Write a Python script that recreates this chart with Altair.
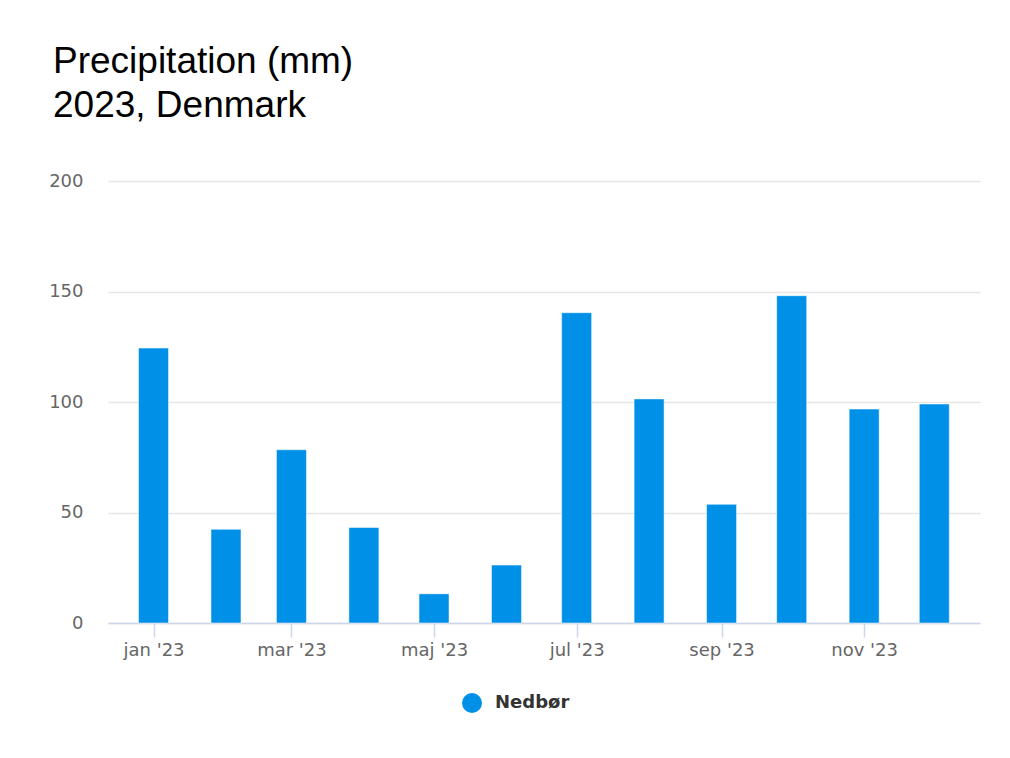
import altair as alt
import pandas as pd

dates = ["2023-01-01T00:00:00", "2023-02-01T00:00:00", "2023-03-01T00:00:00",
         "2023-04-01T00:00:00", "2023-05-01T00:00:00", "2023-06-01T00:00:00",
         "2023-07-01T00:00:00", "2023-08-01T00:00:00", "2023-09-01T00:00:00",
         "2023-10-01T00:00:00", "2023-11-01T00:00:00", "2023-12-01T00:00:00"]
values = [124.4, 42.4, 78.4, 43.2, 13.2, 26.2, 140.4, 101.4, 53.7, 148.1, 96.8, 99.1]
series_name = "Nedbør"
title_lines = ["Precipitation (mm)", "2023, Denmark"]
month_names = ["jan", "feb", "mar", "apr", "maj", "jun", "jul", "aug", "sep", "okt", "nov", "dec"]
tick_months = [1, 3, 5, 7, 9, 11]
y_ticks = [0, 50, 100, 150, 200]

df = pd.DataFrame({"date": dates, "value": values, "series": [series_name] * len(dates)})

names_js = "[" + ",".join("'" + m + "'" for m in month_names) + "]"
label_expr = names_js + "[month(datum.value)] + \" '\" + timeFormat(datum.value, '%y')"

chart = alt.Chart(df).mark_bar(
    width=30, stroke="#ffffff", strokeWidth=1, strokeOpacity=0.5
).encode(
    x=alt.X(
        "date:T",
        scale=alt.Scale(domain=["2022-12-14T16:00:00", "2023-12-18T10:00:00"], nice=False),
        axis=alt.Axis(
            title=None,
            values=[alt.DateTime(year=2023, month=m, date=1) for m in tick_months],
            labelExpr=label_expr,
            grid=False,
            domainColor="#ccd6eb",
            domainWidth=1.5,
            tickColor="#ccd6eb",
            tickWidth=1.5,
            tickSize=14,
            labelPadding=4,
            labelFont="DejaVu Sans",
            labelFontSize=18,
            labelColor="#666666",
        ),
    ),
    y=alt.Y(
        "value:Q",
        scale=alt.Scale(domain=[0, 200], nice=False),
        axis=alt.Axis(
            title=None,
            values=y_ticks,
            grid=True,
            gridColor="#e6e6e6",
            gridWidth=1.5,
            domain=False,
            ticks=False,
            labelPadding=25,
            labelFont="DejaVu Sans",
            labelFontSize=18,
            labelColor="#666666",
        ),
    ),
    color=alt.Color(
        "series:N",
        scale=alt.Scale(domain=[series_name], range=["#0090e8"]),
        legend=alt.Legend(
            title=None,
            orient="none",
            legendX=354,
            legendY=512,
            symbolType="circle",
            symbolSize=400,
            symbolStrokeWidth=0,
            labelFont="DejaVu Sans",
            labelFontSize=18,
            labelFontWeight="bold",
            labelColor="#333333",
            labelOffset=13,
        ),
    ),
).properties(
    width=872,
    height=442,
    title=alt.TitleParams(
        text=title_lines,
        anchor="start",
        frame="group",
        font="Liberation Sans",
        fontSize=37,
        fontWeight="normal",
        color="#000000",
        lineHeight=44,
        dx=-55,
        offset=47,
    ),
    padding={"left": 100, "top": 173, "right": 22, "bottom": 127},
    autosize=alt.AutoSizeParams(type="none"),
    background="#ffffff",
).configure_view(stroke=None)

chart.save("out.html", embed_options={"renderer": "svg", "actions": False})
